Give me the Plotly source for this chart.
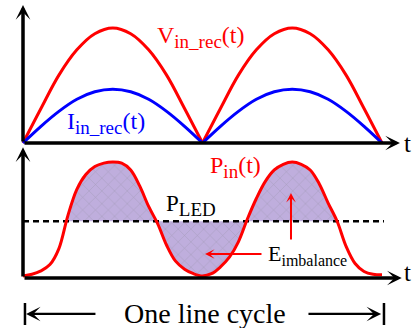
import plotly.graph_objects as go

# ---------------- data ----------------
# top panel: rectified input voltage / current, t in half-line-cycles (0..2)
t_top = [0.0, 0.1, 0.2, 0.3, 0.4, 0.5, 0.6, 0.7, 0.8, 0.9, 1.0,
         1.1, 1.2, 1.3, 1.4, 1.5, 1.6, 1.7, 1.8, 1.9, 2.0]
v_in_rec = [0.0, 0.30, 0.59, 0.81, 0.95, 1.0, 0.95, 0.81, 0.59, 0.30, 0.0,
            0.30, 0.59, 0.81, 0.95, 1.0, 0.95, 0.81, 0.59, 0.30, 0.0]
i_in_rec = [0.0, 0.145, 0.275, 0.38, 0.445, 0.467, 0.445, 0.38, 0.275, 0.145, 0.0,
            0.145, 0.275, 0.38, 0.445, 0.467, 0.445, 0.38, 0.275, 0.145, 0.0]

# bottom panel: input power and LED power
t_bot = [0.00, 0.05, 0.10, 0.15, 0.20, 0.25, 0.30, 0.35, 0.40, 0.45, 0.50,
         0.55, 0.60, 0.65, 0.70, 0.75, 0.80, 0.85, 0.90, 0.95, 1.00,
         1.05, 1.10, 1.15, 1.20, 1.25, 1.30, 1.35, 1.40, 1.45, 1.50,
         1.55, 1.60, 1.65, 1.70, 1.75, 1.80, 1.85, 1.90, 1.95, 2.00]
p_in = [0.0, 0.015, 0.045, 0.10, 0.24, 0.53, 0.76, 0.89, 0.96, 0.99, 1.0,
        0.99, 0.93, 0.79, 0.61, 0.46, 0.27, 0.13, 0.06, 0.02, 0.0,
        0.02, 0.08, 0.165, 0.30, 0.50, 0.68, 0.83, 0.93, 0.98, 1.0,
        0.98, 0.93, 0.81, 0.64, 0.48, 0.26, 0.11, 0.04, 0.015, 0.01]
p_led = 0.48

# text labels (main text, subscript, tail)
label_v = ("V", "in_rec", "(t)")
label_i = ("I", "in_rec", "(t)")
label_p = ("P", "in", "(t)")
label_led = ("P", "LED", "")
label_e = ("E", "imbalance", "")
label_t = "t"
label_cycle = "One line cycle"

# ---------------- styling ----------------
FONT = "Liberation Serif"
RED = "#ff0000"
BLUE = "#0000ff"
BLACK = "#000000"
W, H = 414, 328


def sub_text(parts, sub_px):
    main, sub, tail = parts
    return f"{main}<sub><span style='font-size:{sub_px}px'>{sub}</span></sub>{tail}"


def crossing(i0, i1):
    """linear interpolation of the P_in / P_LED crossing between samples i0, i1"""
    t0, t1, p0, p1 = t_bot[i0], t_bot[i1], p_in[i0], p_in[i1]
    return t0 + (p_led - p0) * (t1 - t0) / (p1 - p0)


# first and last crossings of P_in with P_LED
idx_up = next(i for i in range(1, len(p_in)) if p_in[i - 1] < p_led <= p_in[i])
idx_dn = max(i for i in range(1, len(p_in)) if p_in[i - 1] >= p_led > p_in[i])
c1 = crossing(idx_up - 1, idx_up)
c2 = crossing(idx_dn - 1, idx_dn)
fill_t = [c1] + t_bot[idx_up:idx_dn] + [c2]
fill_p = [p_led] + p_in[idx_up:idx_dn] + [p_led]

fig = go.Figure()

# top panel arches (split at the zero crossing)
for k in range(2):
    sl = slice(10 * k, 10 * k + 11)
    fig.add_trace(go.Scatter(x=t_top[sl], y=v_in_rec[sl], mode="lines",
                             line=dict(color=RED, width=3, shape="spline"),
                             yaxis="y", hoverinfo="skip", showlegend=False))
    fig.add_trace(go.Scatter(x=t_top[sl], y=i_in_rec[sl], mode="lines",
                             line=dict(color=BLUE, width=3, shape="spline"),
                             yaxis="y", hoverinfo="skip", showlegend=False))

# hatched energy imbalance area
fig.add_trace(go.Scatter(x=[c1, c2], y=[p_led, p_led], mode="lines",
                         line=dict(width=0, color="rgba(0,0,0,0)"),
                         yaxis="y2", hoverinfo="skip", showlegend=False))
fig.add_trace(go.Scatter(x=fill_t, y=fill_p, mode="lines",
                         line=dict(width=0, color="rgba(0,0,0,0)", shape="spline"),
                         fill="tonexty", fillcolor="#bfaedd",
                         fillpattern=dict(shape="x", bgcolor="#bfaedd",
                                          fgcolor="#928c9e", size=9, solidity=0.12),
                         yaxis="y2", hoverinfo="skip", showlegend=False))

# P_LED dashed level
fig.add_trace(go.Scatter(x=[0, 2.011], y=[p_led, p_led], mode="lines",
                         line=dict(color=BLACK, width=2.5, dash="6px,4px"),
                         yaxis="y2", hoverinfo="skip", showlegend=False))

# P_in curve
fig.add_trace(go.Scatter(x=t_bot, y=p_in, mode="lines",
                         line=dict(color=RED, width=3, shape="spline"),
                         yaxis="y2", hoverinfo="skip", showlegend=False))

annotations = []


def arrow(x, y, ax, ay, yref, color, width, size, head=3):
    annotations.append(dict(x=x, y=y, ax=ax, ay=ay, xref="x", yref=yref,
                            axref="x", ayref=yref, text="", showarrow=True,
                            arrowhead=head, arrowsize=size, arrowwidth=width,
                            arrowcolor=color, standoff=0, startstandoff=0))


def label(x, y, text, yref, color, size, xanchor="left"):
    annotations.append(dict(x=x, y=y, xref="x", yref=yref, text=text,
                            showarrow=False, xanchor=xanchor, yanchor="middle",
                            font=dict(family=FONT, size=size, color=color)))


# axes (arrows)
arrow(0, 1.2, 0, 0, "y", BLACK, 3.5, 0.7)
arrow(2.1, 0, 0, 0, "y", BLACK, 3.5, 0.7)
arrow(0, 1.13, 0, -0.0175, "y2", BLACK, 3.5, 0.7)
arrow(2.11, -0.0175, 0, -0.0175, "y2", BLACK, 3.5, 0.7)

# E_imbalance pointers
arrow(1.493, 0.728, 1.493, 0.307, "y2", RED, 2, 0.8)
arrow(1.014, 0.193, 1.337, 0.193, "y2", RED, 2, 0.8)

# "one line cycle" dimension arrows
arrow(0.017, -0.333, 0.412, -0.333, "y2", BLACK, 2.2, 1.1)
arrow(1.995, -0.333, 1.582, -0.333, "y2", BLACK, 2.2, 1.1)

shapes = [
    dict(type="line", xref="x", yref="y2", x0=0.011, x1=0.011, y0=-0.237, y1=-0.43,
         line=dict(color=BLACK, width=2.5)),
    dict(type="line", xref="x", yref="y2", x0=2.011, x1=2.011, y0=-0.237, y1=-0.43,
         line=dict(color=BLACK, width=2.5)),
]

# labels
label(0.735, 0.92, sub_text(label_v, 19), "y", RED, 24)
label(0.234, 0.17, sub_text(label_i, 19), "y", BLUE, 24)
label(2.11, 0.0, label_t, "y", BLACK, 25)
label(1.03, 0.955, sub_text(label_p, 19), "y2", RED, 24)
label(0.785, 0.62, sub_text(label_led, 19), "y2", BLACK, 23)
label(1.354, 0.184, sub_text(label_e, 16), "y2", BLACK, 22)
label(2.11, 0.03, label_t, "y2", BLACK, 25)
label(1.014, -0.333, label_cycle, "y2", BLACK, 28, xanchor="center")

x0 = -23 / 179.5
x1 = (W - 23) / 179.5
fig.update_layout(
    width=W, height=H, autosize=False,
    margin=dict(l=0, r=0, t=0, b=0),
    paper_bgcolor="white", plot_bgcolor="white",
    xaxis=dict(range=[x0, x1], visible=False, fixedrange=True),
    yaxis=dict(range=[(143 - 328) / 115, 143 / 115], domain=[0, 1],
               visible=False, fixedrange=True),
    yaxis2=dict(range=[(276 - 328) / 114, 276 / 114], domain=[0, 1],
                overlaying="y", visible=False, fixedrange=True),
    annotations=annotations,
    shapes=shapes,
    showlegend=False,
)

fig.write_html("out.html", config={"displayModeBar": False},
               post_script="document.body.style.margin='0';document.body.style.overflow='hidden';")
